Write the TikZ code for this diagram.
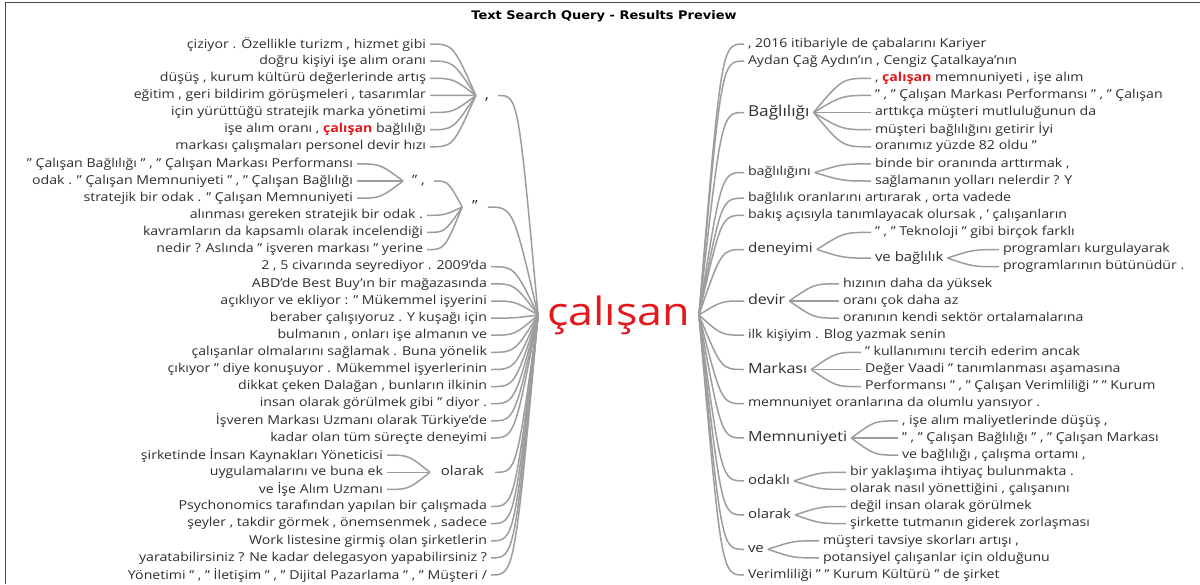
\documentclass[tikz,border=0pt]{standalone}
\usepackage{fontspec}
\setmainfont{Open Sans}[FakeStretch=1.15]
\newfontfamily\titlefont{DejaVu Sans}[FakeStretch=1.1]
\usetikzlibrary{calc}
\definecolor{linkgray}{HTML}{9D9D9D}
\definecolor{txt}{HTML}{2E2E2E}
\definecolor{hl}{HTML}{E3191D}
\definecolor{frame}{HTML}{4A4A4A}
\newcommand{\hlw}[1]{\textcolor{hl}{\bfseries #1}}
\tikzset{
  wt/.style={inner sep=0pt, outer xsep=4pt, text=txt, execute at begin node={\vphantom{Ag}}},
  lv/.style={wt, font=\fontsize{12.3}{12.3}\selectfont},
  ll/.style={lv, anchor=east},
  rl/.style={lv, anchor=west},
  mid/.style={wt, font=\fontsize{#1}{#1}\selectfont},
  lnk/.style={draw=linkgray, line width=1.5pt},
  tol/.style={to path={let \p1=(\tikztostart), \p2=(\tikztotarget) in .. controls ({(\x1+\x2)/2},\y1) .. (\tikztotarget)}},
  tor/.style={to path={let \p1=(\tikztostart), \p2=(\tikztotarget) in .. controls ({(\x1+\x2)/2},\y2) .. (\tikztotarget)}},
}
\begin{document}
\begin{tikzpicture}[x=1pt,y=-1pt]
\useasboundingbox (0,0) rectangle (1200,584);
\fill[white] (0,0) rectangle (1200,584);
\draw[frame, line width=1.5pt] (1200,2.5) -- (5.5,2.5) -- (5.5,584);
\node[font=\titlefont\fontsize{11.8}{11.8}\selectfont\bfseries, text=black, inner sep=0pt] (title) at (604,16) {Text Search Query - Results Preview};

% root
\node[wt, outer xsep=9pt, font=\fontsize{39}{39}\selectfont, text=hl] (root) at (618.5,315) {çalışan};

% ---------- left side ----------
\node[ll] (L1) at (430,44.0) {çiziyor . Özellikle turizm , hizmet gibi};
\node[ll] (L2) at (430,61.1) {doğru kişiyi işe alım oranı};
\node[ll] (L3) at (430,78.3) {düşüş , kurum kültürü değerlerinde artış};
\node[ll] (L4) at (430,95.4) {eğitim , geri bildirim görüşmeleri , tasarımlar};
\node[ll] (L5) at (430,112.5) {için yürüttüğü stratejik marka yönetimi};
\node[ll] (L6) at (430,129.7) {işe alım oranı , \hlw{çalışan} bağlılığı};
\node[ll] (L7) at (430,146.8) {markası çalışmaları personel devir hızı};
\node[ll] (L8) at (357,163.9) {" Çalışan Bağlılığı " , " Çalışan Markası Performansı};
\node[ll] (L9) at (357,181.0) {odak . " Çalışan Memnuniyeti " , " Çalışan Bağlılığı};
\node[ll] (L10) at (357,198.2) {stratejik bir odak . " Çalışan Memnuniyeti};
\node[ll] (L11) at (427,215.3) {alınması gereken stratejik bir odak .};
\node[ll] (L12) at (427,232.4) {kavramların da kapsamlı olarak incelendiği};
\node[ll] (L13) at (427,249.6) {nedir ? Aslında " işveren markası " yerine};
\node[ll] (L14) at (491,266.7) {2 , 5 civarında seyrediyor . 2009'da};
\node[ll] (L15) at (491,283.8) {ABD'de Best Buy'ın bir mağazasında};
\node[ll] (L16) at (491,301.0) {açıklıyor ve ekliyor : " Mükemmel işyerini};
\node[ll] (L17) at (491,318.1) {beraber çalışıyoruz . Y kuşağı için};
\node[ll] (L18) at (491,335.2) {bulmanın , onları işe almanın ve};
\node[ll] (L19) at (491,352.3) {çalışanlar olmalarını sağlamak . Buna yönelik};
\node[ll] (L20) at (491,369.5) {çıkıyor " diye konuşuyor . Mükemmel işyerlerinin};
\node[ll] (L21) at (491,386.6) {dikkat çeken Dalağan , bunların ilkinin};
\node[ll] (L22) at (491,403.7) {insan olarak görülmek gibi " diyor .};
\node[ll] (L23) at (491,420.9) {İşveren Markası Uzmanı olarak Türkiye'de};
\node[ll] (L24) at (491,438.0) {kadar olan tüm süreçte deneyimi};
\node[ll] (L25) at (387,455.1) {şirketinde İnsan Kaynakları Yöneticisi};
\node[ll] (L26) at (387,472.3) {uygulamalarını ve buna ek};
\node[ll] (L27) at (387,489.4) {ve İşe Alım Uzmanı};
\node[ll] (L28) at (491,506.5) {Psychonomics tarafından yapılan bir çalışmada};
\node[ll] (L29) at (491,523.6) {şeyler , takdir görmek , önemsenmek , sadece};
\node[ll] (L30) at (491,540.8) {Work listesine girmiş olan şirketlerin};
\node[ll] (L31) at (491,557.9) {yaratabilirsiniz ? Ne kadar delegasyon yapabilirsiniz ?};
\node[ll] (L32) at (491,575.0) {Yönetimi " , " İletişim " , " Dijital Pazarlama " , " Müşteri /};

\node[mid=15, outer xsep=9pt] (lc) at (487,95.5) {,};
\node[mid=13, outer xsep=9pt] (lq2) at (418.5,181) {" ,};
\node[mid=14, outer xsep=10pt] (lq) at (475,207) {"};
\node[mid=13, outer xsep=11pt] (lo) at (462.5,472.3) {olarak};

\foreach \i in {1,...,7} \draw[lnk] (L\i.east) to[tol] (lc.west);
\foreach \i in {8,9,10} \draw[lnk] (L\i.east) to[tol] (lq2.west);
\foreach \i in {11,12,13} \draw[lnk] (L\i.east) to[tol] (lq.west);
\draw[lnk] (lq2.east) to[tol] (lq.west);
\foreach \i in {25,26,27} \draw[lnk] (L\i.east) to[tol] (lo.west);
\draw[lnk] (lc.east) to[tol] (root.west);
\draw[lnk] (lq.east) to[tol] (root.west);
\draw[lnk] (lo.east) to[tol] (root.west);
\foreach \i in {14,...,24,28,29,30,31,32} \draw[lnk] (L\i.east) to[tol] (root.west);

% ---------- right side ----------
\node[rl] (R1) at (744,44.0) {, 2016 itibariyle de çabalarını Kariyer};
\node[rl] (R2) at (744,61.1) {Aydan Çağ Aydın'ın , Cengiz Çatalkaya'nın};
\node[rl] (R3) at (871,78.3) {, \hlw{çalışan} memnuniyeti , işe alım};
\node[rl] (R4) at (871,95.4) {" , " Çalışan Markası Performansı " , " Çalışan};
\node[rl] (R5) at (871,112.5) {arttıkça müşteri mutluluğunun da};
\node[rl] (R6) at (871,129.7) {müşteri bağlılığını getirir İyi};
\node[rl] (R7) at (871,146.8) {oranımız yüzde 82 oldu "};
\node[rl] (R8) at (871,163.9) {binde bir oranında arttırmak ,};
\node[rl] (R9) at (871,181.0) {sağlamanın yolları nelerdir ? Y};
\node[rl] (R10) at (744,198.2) {bağlılık oranlarını artırarak , orta vadede};
\node[rl] (R11) at (744,215.3) {bakış açısıyla tanımlayacak olursak , ' çalışanların};
\node[rl] (R12) at (871,232.4) {" , " Teknoloji " gibi birçok farklı};
\node[rl] (R13) at (999,249.6) {programları kurgulayarak};
\node[rl] (R14) at (999,266.7) {programlarının bütünüdür .};
\node[rl] (R15) at (839,283.8) {hızının daha da yüksek};
\node[rl] (R16) at (839,301.0) {oranı çok daha az};
\node[rl] (R17) at (839,318.1) {oranının kendi sektör ortalamalarına};
\node[rl] (R18) at (744,335.2) {ilk kişiyim . Blog yazmak senin};
\node[rl] (R19) at (861,352.3) {" kullanımını tercih ederim ancak};
\node[rl] (R20) at (861,369.5) {Değer Vaadi " tanımlanması aşamasına};
\node[rl] (R21) at (861,386.6) {Performansı " , " Çalışan Verimliliği " " Kurum};
\node[rl] (R22) at (744,403.7) {memnuniyet oranlarına da olumlu yansıyor .};
\node[rl] (R23) at (898,420.9) {, işe alım maliyetlerinde düşüş ,};
\node[rl] (R24) at (898,438.0) {" , " Çalışan Bağlılığı " , " Çalışan Markası};
\node[rl] (R25) at (898,455.1) {ve bağlılığı , çalışma ortamı ,};
\node[rl] (R26) at (846,472.3) {bir yaklaşıma ihtiyaç bulunmakta .};
\node[rl] (R27) at (846,489.4) {olarak nasıl yönettiğini , çalışanını};
\node[rl] (R28) at (846,506.5) {değil insan olarak görülmek};
\node[rl] (R29) at (846,523.6) {şirkette tutmanın giderek zorlaşması};
\node[rl] (R30) at (819,540.8) {müşteri tavsiye skorları artışı ,};
\node[rl] (R31) at (819,557.9) {potansiyel çalışanlar için olduğunu};
\node[rl] (R32) at (744,575.0) {Verimliliği " " Kurum Kültürü " de şirket};

\node[mid=15, anchor=west] (rB) at (744,112.5) {Bağlılığı};
\node[mid=12.4, anchor=west] (rb) at (744,172.5) {bağlılığını};
\node[mid=13.2, anchor=west] (rd) at (744,249.5) {deneyimi};
\node[mid=13, anchor=west] (rvb) at (871,258.1) {ve bağlılık};
\node[mid=14, anchor=west] (rdv) at (744,301) {devir};
\node[mid=14, anchor=west] (rM) at (744,369.5) {Markası};
\node[mid=14, anchor=west] (rMe) at (744,438) {Memnuniyeti};
\node[mid=13, anchor=west] (rod) at (744,480.9) {odaklı};
\node[mid=13, anchor=west] (rol) at (744,515) {olarak};
\node[mid=13, anchor=west] (rve) at (744,549.3) {ve};

\foreach \nm in {R1,R2,rB,rb,R10,R11,rd,rdv,R18,rM,R22,rMe,rod,rol,rve,R32}
  \draw[lnk] (root.east) to[tor] (\nm.west);
\foreach \i in {3,...,7} \draw[lnk] (rB.east) to[tor] (R\i.west);
\foreach \i in {8,9} \draw[lnk] (rb.east) to[tor] (R\i.west);
\draw[lnk] (rd.east) to[tor] (R12.west);
\draw[lnk] (rd.east) to[tor] (rvb.west);
\foreach \i in {13,14} \draw[lnk] (rvb.east) to[tor] (R\i.west);
\foreach \i in {15,16,17} \draw[lnk] (rdv.east) to[tor] (R\i.west);
\foreach \i in {19,20,21} \draw[lnk] (rM.east) to[tor] (R\i.west);
\foreach \i in {23,24,25} \draw[lnk] (rMe.east) to[tor] (R\i.west);
\foreach \i in {26,27} \draw[lnk] (rod.east) to[tor] (R\i.west);
\foreach \i in {28,29} \draw[lnk] (rol.east) to[tor] (R\i.west);
\foreach \i in {30,31} \draw[lnk] (rve.east) to[tor] (R\i.west);
\end{tikzpicture}
\end{document}
